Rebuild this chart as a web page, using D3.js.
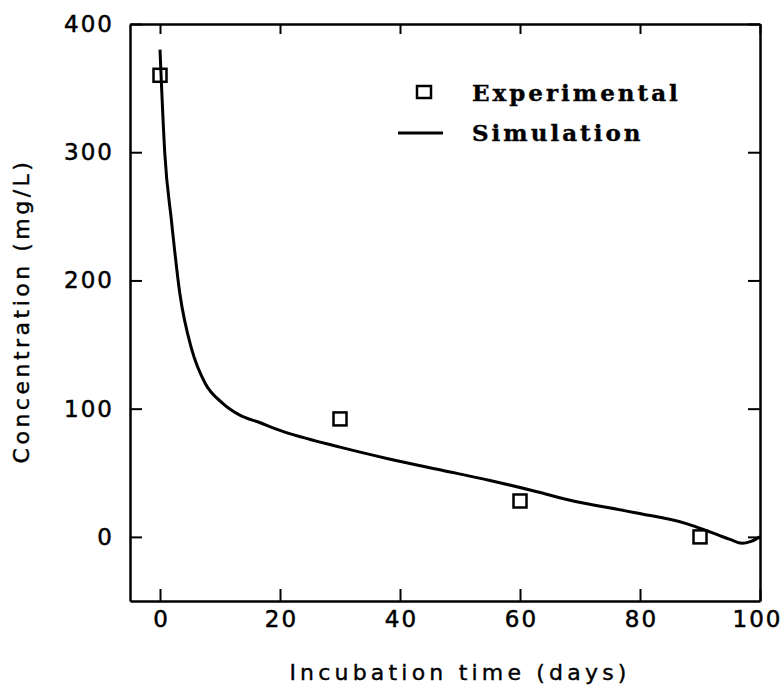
<!DOCTYPE html>
<html>
<head>
<meta charset="utf-8">
<script src="https://cdn.jsdelivr.net/npm/d3@7"></script>
<style>
  html, body { margin: 0; padding: 0; background: #fff; }
  svg { display: block; }
  .tick text { font-family: "DejaVu Sans", sans-serif; font-size: 23px; letter-spacing: 2px; fill: #000; stroke: #000; stroke-width: 0.5px; }
  .title { font-family: "DejaVu Sans", sans-serif; font-size: 22px; fill: #000; stroke: #000; stroke-width: 0.4px; }
</style>
</head>
<body>
<svg id="chart" width="784" height="686"></svg>
<script>
// measured points
const expDays = [0, 30, 60, 90];
const expConc = [360, 92, 28, 0];

// simulated curve
const simDays = [0, 0.8, 1.9, 3.3, 5.3, 7.5, 10.5, 13.3, 16.7, 20, 30, 38, 47, 55, 63, 68, 79, 88, 91, 93, 95, 97, 98.5, 100];
const simConc = [380, 299, 247, 190, 146, 120, 104, 95, 89, 83, 70, 61, 52, 44, 35, 29, 19, 10, 5, 1.5, -2, -5, -3.5, 0];

const xTicks = [0, 20, 40, 60, 80, 100];
const yTicks = [0, 100, 200, 300, 400];

(function () {
  const svg = d3.select("#chart");
  const pLeft = 130, pRight = 760, pTop = 24, pBottom = 601;

  const x = d3.scaleLinear().domain([-5, 100]).range([pLeft, pRight]);
  const y = d3.scaleLinear().domain([-50, 400]).range([pBottom, pTop]);

  const axisStyle = (g) => {
    g.select(".domain").attr("stroke", "#000").attr("stroke-width", 2.5);
    g.selectAll(".tick line").attr("stroke", "#000").attr("stroke-width", 2);
  };

  // bottom / left with labels, ticks pointing inward
  svg.append("g")
    .attr("transform", `translate(0,${pBottom})`)
    .call(d3.axisBottom(x).tickValues(xTicks).tickSize(-12).tickSizeOuter(0).tickPadding(10))
    .call(axisStyle)
    .call((g) => g.selectAll(".tick text")
      .attr("dx", (d) => (d === 100 ? -3 : 1))
      .attr("letter-spacing", (d) => (d === 100 ? 1 : null)));

  svg.append("g")
    .attr("transform", `translate(${pLeft},0)`)
    .call(d3.axisLeft(y).tickValues(yTicks).tickSize(-12).tickSizeOuter(0).tickPadding(16))
    .call(axisStyle);

  // mirrored top / right
  svg.append("g")
    .attr("transform", `translate(0,${pTop})`)
    .call(d3.axisTop(x).tickValues(xTicks).tickSize(-10).tickSizeOuter(0).tickFormat(""))
    .call(axisStyle);

  svg.append("g")
    .attr("transform", `translate(${pRight},0)`)
    .call(d3.axisRight(y).tickValues(yTicks).tickSize(-12).tickSizeOuter(0).tickFormat(""))
    .call(axisStyle);

  // simulation line
  const sim = simDays.map((d, i) => ({ t: d, c: simConc[i] }));
  const line = d3.line()
    .x((d) => x(d.t))
    .y((d) => y(d.c))
    .curve(d3.curveMonotoneX);

  svg.append("path")
    .datum(sim)
    .attr("fill", "none")
    .attr("stroke", "#000")
    .attr("stroke-width", 3)
    .attr("stroke-linejoin", "round")
    .attr("d", line);

  // experimental squares
  const exp = expDays.map((d, i) => ({ t: d, c: expConc[i] }));
  const sq = 13;
  svg.append("g")
    .selectAll("rect")
    .data(exp)
    .join("rect")
    .attr("x", (d) => x(d.t) - sq / 2)
    .attr("y", (d) => y(d.c) - sq / 2)
    .attr("width", sq)
    .attr("height", sq)
    .attr("fill", "none")
    .attr("stroke", "#000")
    .attr("stroke-width", 2.5);

  // legend
  const legend = svg.append("g");
  legend.append("rect")
    .attr("x", 417).attr("y", 86).attr("width", 14).attr("height", 12)
    .attr("fill", "none").attr("stroke", "#000").attr("stroke-width", 2.5);
  legend.append("line")
    .attr("x1", 398).attr("x2", 443).attr("y1", 133).attr("y2", 133)
    .attr("stroke", "#000").attr("stroke-width", 3);

  const legendText = (txt, yy) => legend.append("text")
    .attr("x", 472).attr("y", yy)
    .attr("font-family", "'DejaVu Serif', serif")
    .attr("font-weight", "bold")
    .attr("font-size", 23)
    .attr("letter-spacing", 3)
    .attr("fill", "#000")
    .attr("stroke", "#000")
    .attr("stroke-width", 0.4)
    .text(txt);
  legendText("Experimental", 101);
  legendText("Simulation", 141);

  // axis titles
  svg.append("text")
    .attr("class", "title")
    .attr("x", (pLeft + pRight) / 2 + 15)
    .attr("y", 680)
    .attr("text-anchor", "middle")
    .attr("letter-spacing", 4.2)
    .text("Incubation time (days)");

  svg.append("text")
    .attr("class", "title")
    .attr("transform", `translate(29,${311}) rotate(-90)`)
    .attr("text-anchor", "middle")
    .attr("letter-spacing", 3.5)
    .text("Concentration (mg/L)");
})();
</script>
</body>
</html>
